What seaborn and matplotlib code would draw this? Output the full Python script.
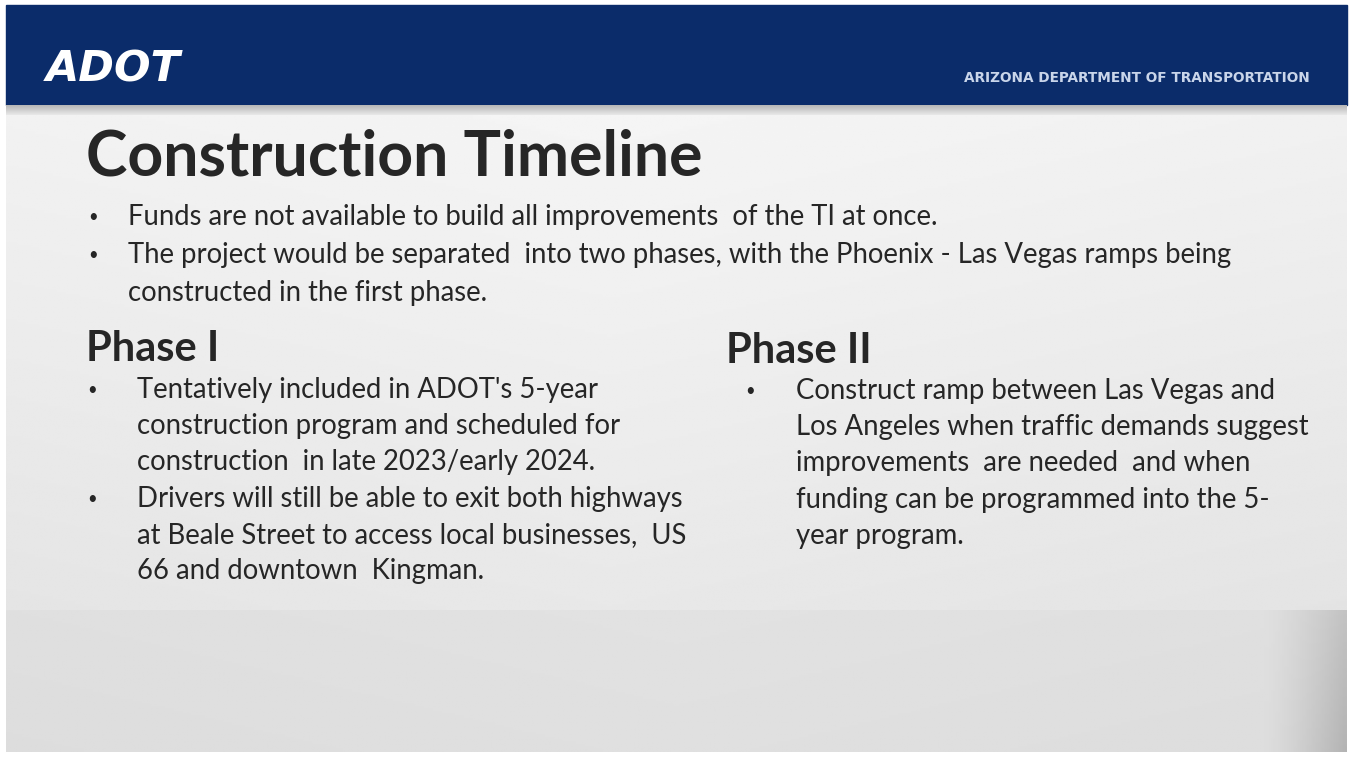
import numpy as np
import seaborn as sns
import matplotlib.pyplot as plt
from matplotlib.patches import Rectangle

# Slide text
title = 'Construction Timeline'
intro_bullets = [
    ['Funds are not available to build all improvements  of the TI at once.'],
    ['The project would be separated  into two phases, with the Phoenix - Las Vegas ramps being',
     'constructed in the first phase.'],
]
phase1_title = 'Phase I'
phase1_bullets = [
    ["Tentatively included in ADOT's 5-year",
     'construction program and scheduled for',
     'construction  in late 2023/early 2024.'],
    ['Drivers will still be able to exit both highways',
     'at Beale Street to access local businesses,  US',
     '66 and downtown  Kingman.'],
]
phase2_title = 'Phase II'
phase2_bullets = [
    ['Construct ramp between Las Vegas and',
     'Los Angeles when traffic demands suggest',
     'improvements  are needed  and when',
     'funding can be programmed into the 5-',
     'year program.'],
]
agency = 'ARIZONA DEPARTMENT OF TRANSPORTATION'
logo = 'ADOT'

sns.set_theme(style='white')
plt.rcParams['font.family'] = ['Lato', 'DejaVu Sans']

W, H = 1349, 757
fig = plt.figure(figsize=(W / 100, H / 100), dpi=100)
ax = fig.add_axes([0, 0, 1, 1])
ax.set_xlim(0, W)
ax.set_ylim(H, 0)
ax.axis('off')

# background: light content area, greyer lower band
yy, xx = np.mgrid[0:200, 0:300]
u = xx / 299
v = yy / 199
bg = 0.96 - 0.05 * v - 0.03 * np.abs(u - 0.45)
ax.imshow(bg, cmap='gray', vmin=0, vmax=1, extent=[6, W - 2, 610, 115], aspect='auto', zorder=0)
low = (0.865 - 0.03 * v[:60] + 0.02 * (1 - np.abs(u[:60] - 0.5))
       - 0.28 * np.clip((u[:60] - 0.94) / 0.06, 0, 1) ** 1.3 * (0.4 + 0.6 * v[:60]))
ax.imshow(low, cmap='gray', vmin=0, vmax=1, extent=[6, W - 2, 752, 610], aspect='auto', zorder=0)

# header band
ax.add_patch(Rectangle((6, 5), W - 8, 100, color='#0b2c6a', zorder=1))
strip = np.linspace(0.72, 0.9, 10)[:, None] * np.ones((10, 50))
ax.imshow(strip, cmap='gray', vmin=0, vmax=1, extent=[6, W - 2, 115, 105], aspect='auto', zorder=1)
ax.text(46, 70, logo, color='white', fontsize=31, fontweight='heavy', fontstyle='italic',
        family=['DejaVu Sans'], va='center', ha='left', zorder=2)
ax.text(1310, 78, agency, color='#c9d5ea', fontsize=9.8, fontweight='bold',
        family=['DejaVu Sans'], va='center', ha='right', zorder=2)

txt = '#262626'
ax.text(86, 158, title, color=txt, fontsize=45, fontweight='bold', va='center', ha='left', zorder=3)

body = 19.8
dot = 12
y = 217
for lines in intro_bullets:
    ax.text(88, y, '•', color=txt, fontsize=dot, va='center', ha='left', zorder=3)
    for line in lines:
        ax.text(128, y, line, color=txt, fontsize=body, va='center', ha='left', zorder=3)
        y += 38

ax.text(86, 349, phase1_title, color=txt, fontsize=30, fontweight='bold', va='center', ha='left', zorder=3)
y = 390
for lines in phase1_bullets:
    ax.text(87, y, '•', color=txt, fontsize=dot, va='center', ha='left', zorder=3)
    for line in lines:
        ax.text(137, y, line, color=txt, fontsize=body, va='center', ha='left', zorder=3)
        y += 36.2

ax.text(726, 351, phase2_title, color=txt, fontsize=30, fontweight='bold', va='center', ha='left', zorder=3)
y = 391
for lines in phase2_bullets:
    ax.text(745, y, '•', color=txt, fontsize=dot, va='center', ha='left', zorder=3)
    for line in lines:
        ax.text(796, y, line, color=txt, fontsize=body, va='center', ha='left', zorder=3)
        y += 36.2

fig.savefig('out.png', dpi=100, facecolor='white')
